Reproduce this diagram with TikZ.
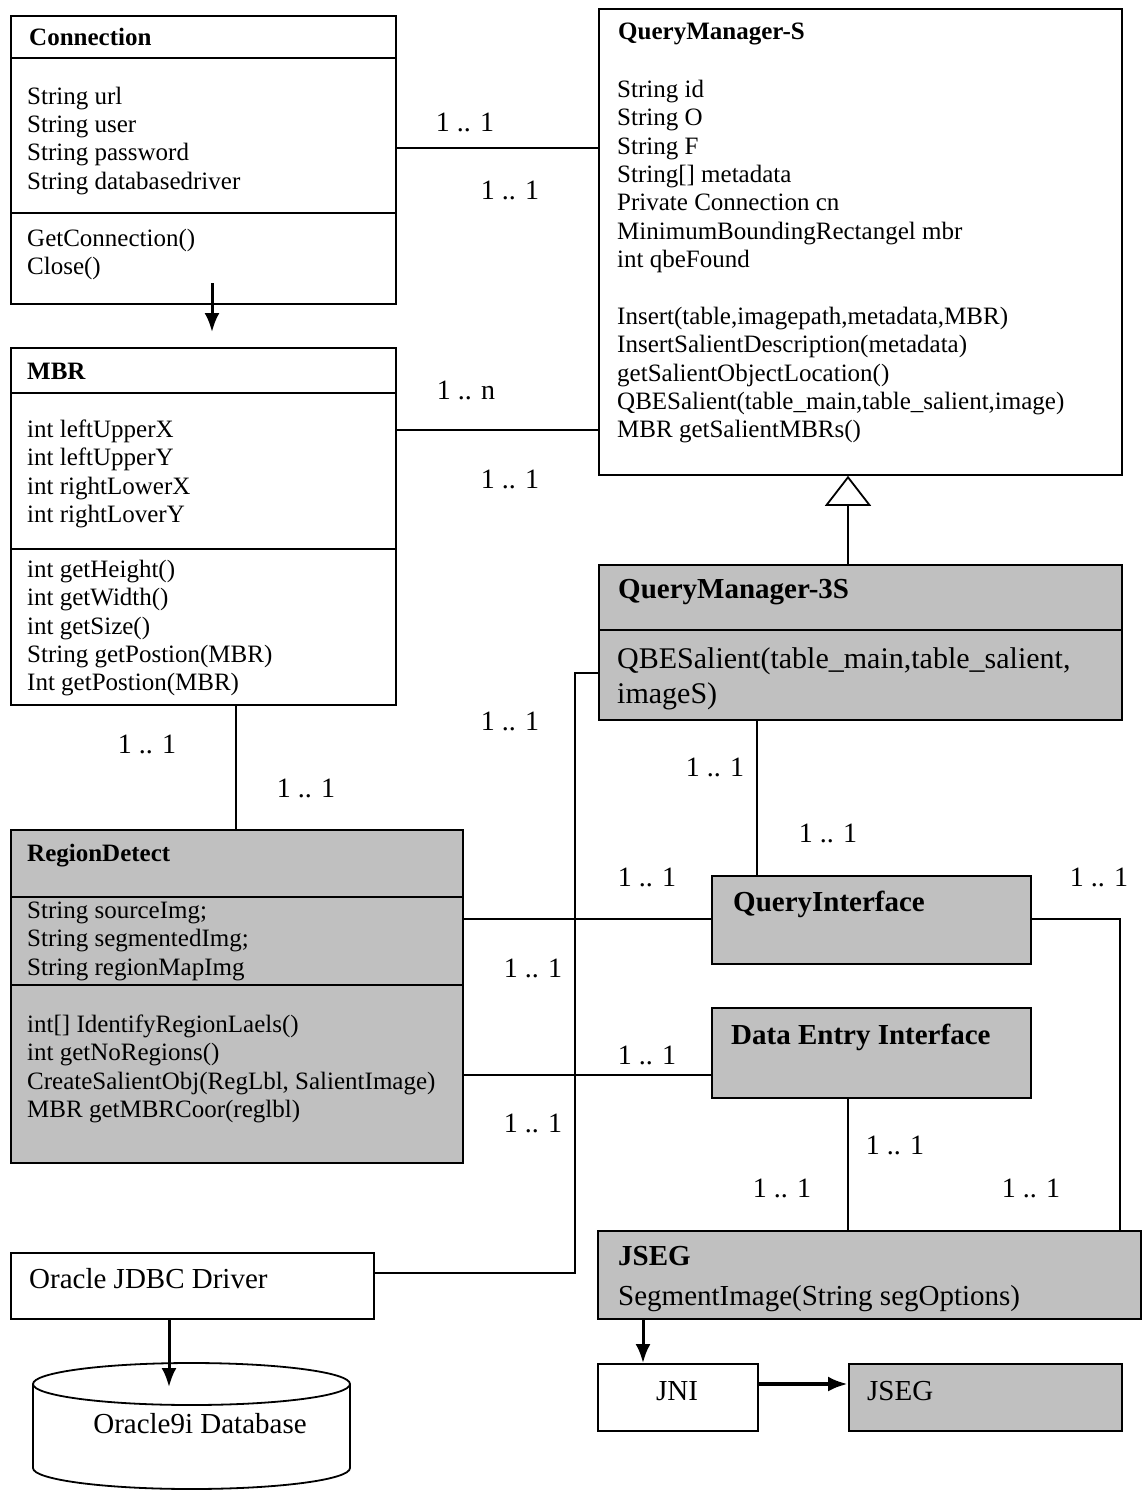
\documentclass[tikz,border=0pt]{standalone}
\usepackage{fontspec}
\setmainfont{Liberation Serif}
\usetikzlibrary{arrows.meta}
\definecolor{umlgray}{RGB}{192,192,192}
% invisible rule that fixes the height of the first line of a text block
\newcommand\lnstrut{\rule{0pt}{24pt}}

\begin{document}
\begin{tikzpicture}[x=1pt,y=-1pt,
  box/.style={draw=black, line width=1.8pt, rectangle, inner sep=0pt, anchor=north west},
  graybox/.style={box, fill=umlgray},
  wire/.style={line width=1.8pt},
  arr/.style={line width=3pt, -{Latex[length=19pt,width=15pt]}},
  sm/.style={font=\fontsize{25}{28.4}\selectfont, inner sep=0pt, align=left, anchor=north west},
  smb/.style={font=\bfseries\fontsize{25}{28.4}\selectfont, inner sep=0pt, anchor=base west},
  lg/.style={font=\fontsize{29}{35}\selectfont, inner sep=0pt},
  lgm/.style={font=\fontsize{30}{35}\selectfont, inner sep=0pt, align=left, anchor=north west},
  lgb/.style={font=\bfseries\fontsize{29}{35}\selectfont, inner sep=0pt, anchor=base west},
  mult/.style={font=\fontsize{28}{30}\selectfont, inner sep=0pt}]

\fill[white] (0,0) rectangle (1142,1490);
\useasboundingbox (0,0) rectangle (1142,1490);

% ---------- class boxes ----------
\node[box, minimum width=385pt, minimum height=288pt] (conn) at (10,15) {};
\node[box, minimum width=523pt, minimum height=466pt] (qms) at (598,8) {};
\node[box, minimum width=385pt, minimum height=357pt] (mbr) at (10,347) {};
\node[graybox, minimum width=523pt, minimum height=155pt] (qm3s) at (598,564) {};
\node[graybox, minimum width=452pt, minimum height=333pt] (rd) at (10,829) {};
\node[graybox, minimum width=319pt, minimum height=88pt] (qi) at (711,875) {};
\node[graybox, minimum width=319pt, minimum height=90pt] (dei) at (711,1007) {};
\node[box, minimum width=363pt, minimum height=66pt] (jdbc) at (10,1252) {};
\node[graybox, minimum width=543pt, minimum height=88pt] (jseg) at (597,1230) {};
\node[box, minimum width=160pt, minimum height=67pt] (jni) at (597,1363) {};
\node[graybox, minimum width=273pt, minimum height=67pt] (jsegn) at (848,1363) {};

% compartment dividers
\draw[wire] (conn.west |- 0,58) -- (conn.east |- 0,58);
\draw[wire] (conn.west |- 0,213) -- (conn.east |- 0,213);
\draw[wire] (mbr.west |- 0,393) -- (mbr.east |- 0,393);
\draw[wire] (mbr.west |- 0,549) -- (mbr.east |- 0,549);
\draw[wire] (rd.west |- 0,897) -- (rd.east |- 0,897);
\draw[wire] (rd.west |- 0,985) -- (rd.east |- 0,985);
\draw[wire] (qm3s.west |- 0,630) -- (qm3s.east |- 0,630);

% database cylinder
\draw[wire, fill=white] (191.5,1384) ellipse [x radius=158.5, y radius=21];
\draw[wire] (33,1384) -- (33,1468) arc[start angle=180, end angle=0, x radius=158.5, y radius=21] -- (350,1384);
\coordinate (dbtop) at (169,1387);

% ---------- texts ----------
\node[smb] (conn-t) at (29,46) {Connection};
\node[sm] (conn-a) at (27,80) {\lnstrut String url\\String user\\String password\\String databasedriver};
\node[sm] (conn-m) at (27,222) {\lnstrut GetConnection()\\Close()};

\node[smb] (qms-t) at (618,40) {QueryManager-S};
\node[sm] (qms-a) at (617,73) {\lnstrut String id\\String O\\String F\\String[] metadata\\Private Connection cn\\MinimumBoundingRectangel mbr\\int qbeFound};
\node[sm] (qms-m) at (617,300) {\lnstrut Insert(table,imagepath,metadata,MBR)\\InsertSalientDescription(metadata)\\getSalientObjectLocation()\\QBESalient(table\_main,table\_salient,image)\\MBR getSalientMBRs()};

\node[smb] (mbr-t) at (27,379) {MBR};
\node[sm] (mbr-a) at (27,413) {\lnstrut int leftUpperX\\int leftUpperY\\int rightLowerX\\int rightLoverY};
\node[sm] (mbr-m) at (27,553) {\lnstrut int getHeight()\\int getWidth()\\int getSize()\\String getPostion(MBR)\\Int getPostion(MBR)};

\node[smb] (rd-t) at (27,861) {RegionDetect};
\node[sm] (rd-a) at (27,894) {\lnstrut String sourceImg;\\String segmentedImg;\\String regionMapImg};
\node[sm] (rd-m) at (27,1008) {\lnstrut int[] IdentifyRegionLaels()\\int getNoRegions()\\CreateSalientObj(RegLbl, SalientImage)\\MBR getMBRCoor(reglbl)};

\node[lgb] (qm3s-t) at (618,598) {QueryManager-3S};
\node[lgm] (qm3s-m) at (617,644) {\lnstrut QBESalient(table\_main,table\_salient,\\imageS)};

\node[lgb] (qi-t) at (733,911) {QueryInterface};
\node[lgb] (dei-t) at (731,1044) {Data Entry Interface};

\node[lgb] (jseg-t) at (618,1265) {JSEG};
\node[lg, anchor=base west] (jseg-m) at (618,1305) {SegmentImage(String segOptions)};
\node[lg, anchor=base west] (jdbc-t) at (29,1288) {Oracle JDBC Driver};
\node[lg, anchor=base] (jni-t) at (677,1400) {JNI};
\node[lg, anchor=base west] (jsegn-t) at (867,1400) {JSEG};
\node[lg, anchor=base] (db) at (200,1433) {Oracle9i Database};

% ---------- connectors ----------
\draw[wire] (conn.east |- 0,148) -- (qms.west |- 0,148);
\draw[wire] (mbr.east |- 0,430) -- (qms.west |- 0,430);
\draw[wire] (mbr.south -| 236,0) -- (rd.north -| 236,0);
\draw[wire, -{Triangle[open, length=30pt, width=46pt]}] (qm3s.north -| 848,0) -- (qms.south -| 848,0);
\draw[wire] (qm3s.west |- 0,673) -| (575,1273) -- (jdbc.east |- 0,1273);
\draw[wire] (qm3s.south -| 757,0) -- (qi.north -| 757,0);
\draw[wire] (rd.east |- 0,919) -- (qi.west |- 0,919);
\draw[wire] (rd.east |- 0,1075) -- (dei.west |- 0,1075);
\draw[wire] (qi.east |- 0,919) -| (jseg.north -| 1120,0);
\draw[wire] (dei.south -| 848,0) -- (jseg.north -| 848,0);

\coordinate (connout) at (212,283);
\coordinate (mbrin) at (212,332);
\draw[arr] (connout) -- (mbrin);
\draw[arr] (jdbc.south -| 169,0) -- (dbtop);
\draw[arr] (jseg.south -| 643,0) -- (jni.north -| 643,0);
\draw[line width=4pt, -{Latex[length=20pt,width=15pt]}] (jni.east |- 0,1384) -- (jsegn.west |- 0,1384);

% ---------- multiplicities ----------
\node[mult] (m1) at (465,122) {1 .. 1};
\node[mult] (m2) at (510,190) {1 .. 1};
\node[mult] (m3) at (466,390) {1 .. n};
\node[mult] (m4) at (510,479) {1 .. 1};
\node[mult] (m5) at (510,721) {1 .. 1};
\node[mult] (m6) at (147,744) {1 .. 1};
\node[mult] (m7) at (306,788) {1 .. 1};
\node[mult] (m8) at (715,767) {1 .. 1};
\node[mult] (m9) at (828,833) {1 .. 1};
\node[mult] (m10) at (647,877) {1 .. 1};
\node[mult] (m11) at (1099,877) {1 .. 1};
\node[mult] (m12) at (533,968) {1 .. 1};
\node[mult] (m13) at (647,1055) {1 .. 1};
\node[mult] (m14) at (533,1123) {1 .. 1};
\node[mult] (m15) at (895,1145) {1 .. 1};
\node[mult] (m16) at (782,1188) {1 .. 1};
\node[mult] (m17) at (1031,1188) {1 .. 1};
\end{tikzpicture}
\end{document}
